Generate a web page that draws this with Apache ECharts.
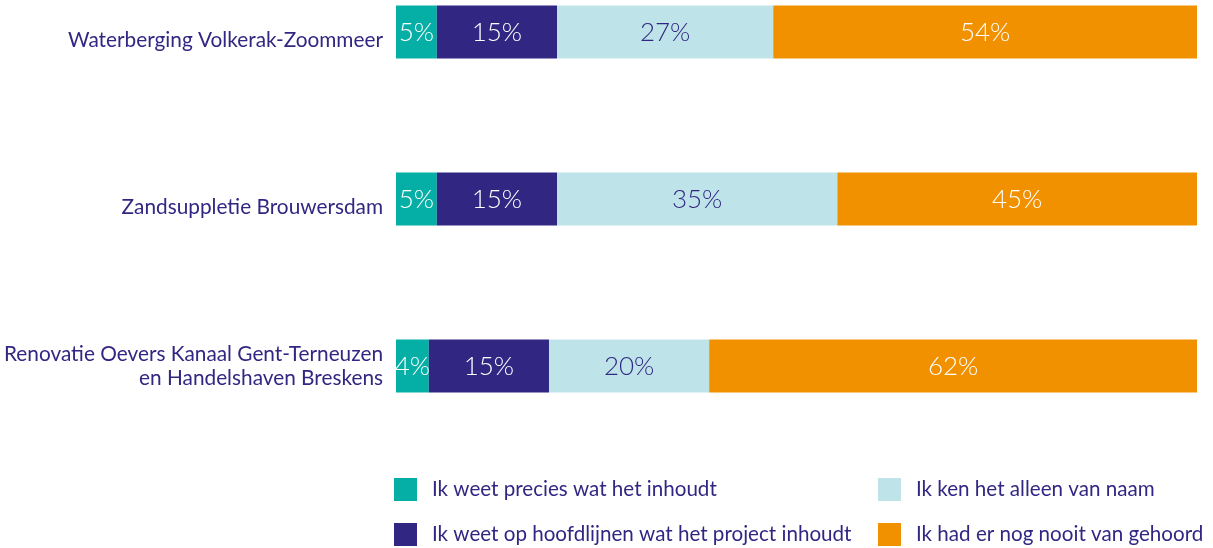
<!DOCTYPE html>
<html><head><meta charset="utf-8">
<script src="https://cdn.jsdelivr.net/npm/echarts@6/dist/echarts.min.js"></script>
<style>html,body{margin:0;padding:0;background:#fff}#c{width:1213px;height:548px}</style>
</head><body><div id="c"></div>
<script>
const categories = ['Waterberging Volkerak-Zoommeer', 'Zandsuppletie Brouwersdam', 'Renovatie Oevers Kanaal Gent-Terneuzen\nen Handelshaven Breskens'];
const seriesNames = ['Ik weet precies wat het inhoudt', 'Ik weet op hoofdlijnen wat het project inhoudt', 'Ik ken het alleen van naam', 'Ik had er nog nooit van gehoord'];
// bar widths (share of respondents, % as drawn)
const precies = [5.1, 5.1, 4.1];
const hoofdlijnen = [15, 15, 15];
const naam = [27, 35, 20];
const nooit = [52.9, 44.9, 60.9];
// printed labels
const preciesLabels = ['5%', '5%', '4%'];
const hoofdlijnenLabels = ['15%', '15%', '15%'];
const naamLabels = ['27%', '35%', '20%'];
const nooitLabels = ['54%', '45%', '62%'];

const colors = ['#05AFA5', '#312783', '#BEE3E9', '#F29100'];
const textNavy = '#312783';
const FONT = 'Lato';

const values = [precies, hoofdlijnen, naam, nooit];
const labels = [preciesLabels, hoofdlijnenLabels, naamLabels, nooitLabels];

const legendPos = [[394, 478], [394, 523], [878, 478], [878, 523]];

const chart = echarts.init(document.getElementById('c'));
chart.setOption({
  animation: false,
  textStyle: { fontFamily: FONT },
  grid: { left: 396, right: 16, top: 32, height: 334, containLabel: false, outerBoundsMode: 'none' },
  xAxis: { type: 'value', min: 0, max: 100, show: false },
  yAxis: {
    type: 'category', data: categories, inverse: true, boundaryGap: false,
    axisLine: { show: false }, axisTick: { show: false }, splitLine: { show: false },
    axisLabel: {
      color: textNavy, fontSize: 20.8, fontFamily: FONT, margin: 13, align: 'right',
      formatter: v => v.includes('\n') ? v.split('\n').map(l => '{m|' + l + '}').join('\n') : '{s|' + v + '}',
      rich: {
        s: { fontSize: 20.8, color: textNavy, fontFamily: FONT, lineHeight: 26, padding: [16, 0, 0, 0] },
        m: { fontSize: 20.8, color: textNavy, fontFamily: FONT, lineHeight: 24 }
      }
    }
  },
  legend: seriesNames.map((n, i) => ({
    data: [n], left: legendPos[i][0], top: legendPos[i][1], padding: 0,
    itemWidth: 23, itemHeight: 23, icon: 'rect', selectedMode: false,
    textStyle: { color: textNavy, fontSize: 20.6, fontFamily: FONT, padding: [0, 0, 0, 10] }
  })),
  series: seriesNames.map((name, i) => ({
    name, type: 'bar', stack: 'total', barWidth: 53,
    itemStyle: { color: colors[i] },
    label: {
      show: true, position: 'inside', fontSize: 26, fontWeight: 300, fontFamily: FONT,
      color: i === 2 ? textNavy : '#ffffff', offset: [0, 1],
      formatter: p => labels[i][p.dataIndex]
    },
    data: values[i]
  }))
});
</script></body></html>
